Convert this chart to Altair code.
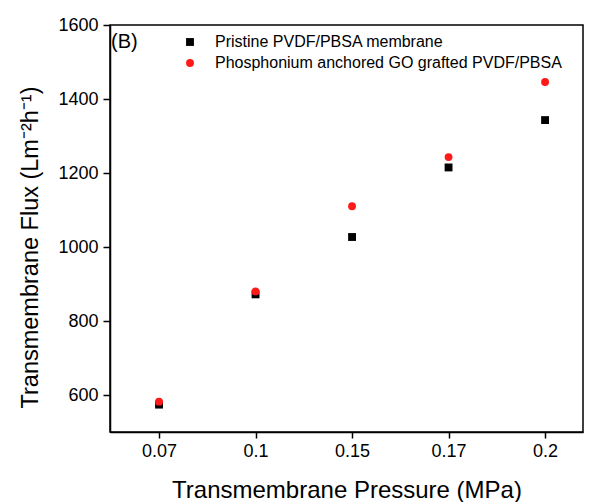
import altair as alt
import pandas as pd

pressure_labels = ["0.07", "0.1", "0.15", "0.17", "0.2"]
pristine = [574, 872, 1027, 1215, 1343]
grafted = [582, 880, 1110, 1243, 1446]
series_names = ["Pristine PVDF/PBSA membrane", "Phosphonium anchored GO grafted PVDF/PBSA"]

rows = []
for i, lab in enumerate(pressure_labels):
    rows.append({"idx": i + 1, "label": lab, "flux": pristine[i], "series": series_names[0]})
    rows.append({"idx": i + 1, "label": lab, "flux": grafted[i], "series": series_names[1]})
df = pd.DataFrame(rows)

label_js = "[" + ",".join('"%s"' % l for l in pressure_labels) + "][datum.value-1]"
FONT = "Liberation Sans"

points = alt.Chart(df).mark_point(filled=True, opacity=1, size=62).encode(
    x=alt.X("idx:Q",
            scale=alt.Scale(domain=[0.492, 5.393], nice=False, zero=False),
            axis=alt.Axis(values=[1, 2, 3, 4, 5], labelExpr=label_js, grid=False,
                          title="Transmembrane Pressure (MPa)", titleFontSize=24,
                          titleFontWeight="normal", titleBaseline="alphabetic",
                          titleY=65, labelFontSize=18, labelPadding=4, tickSize=6,
                          labelFlush=False)),
    y=alt.Y("flux:Q",
            scale=alt.Scale(domain=[500, 1600], nice=False, zero=False),
            axis=alt.Axis(values=[600, 800, 1000, 1200, 1400, 1600], grid=False, format="d",
                          title="Transmembrane Flux (Lm⁻²h⁻¹)", titleFontSize=23.5,
                          titleFontWeight="normal", titleBaseline="alphabetic",
                          titleX=-73, titleY=222, labelFontSize=18,
                          labelPadding=5, tickSize=7)),
    color=alt.Color("series:N", scale=alt.Scale(domain=series_names, range=["#000000", "#ff1a1a"]),
                    legend=alt.Legend(title=None, orient="none", legendX=72, legendY=9,
                                      labelFontSize=16, symbolSize=62, rowPadding=5,
                                      labelOffset=17, padding=0, symbolStrokeWidth=0,
                                      labelLimit=600)),
    shape=alt.Shape("series:N", scale=alt.Scale(domain=series_names, range=["square", "circle"]),
                    legend=None),
)

tag = alt.Chart(pd.DataFrame({"t": ["(B)"]})).mark_text(
    align="left", baseline="middle", fontSize=20, font=FONT, color="#000000"
).encode(x=alt.value(1), y=alt.value(17), text="t:N")

chart = alt.layer(points, tag).properties(
    width=473, height=407,
    autosize=alt.AutoSizeParams(type="none"),
    padding={"left": 102, "top": 17, "right": 2, "bottom": 70},
    background="white",
).configure_view(stroke="#000000", strokeWidth=1.5).configure_axis(
    domainColor="#000000", domainWidth=1.5, tickColor="#000000", tickWidth=1.5,
    labelColor="#000000", titleColor="#000000", labelFont=FONT, titleFont=FONT
).configure_legend(labelFont=FONT, labelColor="#000000")

chart.save("out.html", embed_options={"renderer": "svg", "actions": False})
